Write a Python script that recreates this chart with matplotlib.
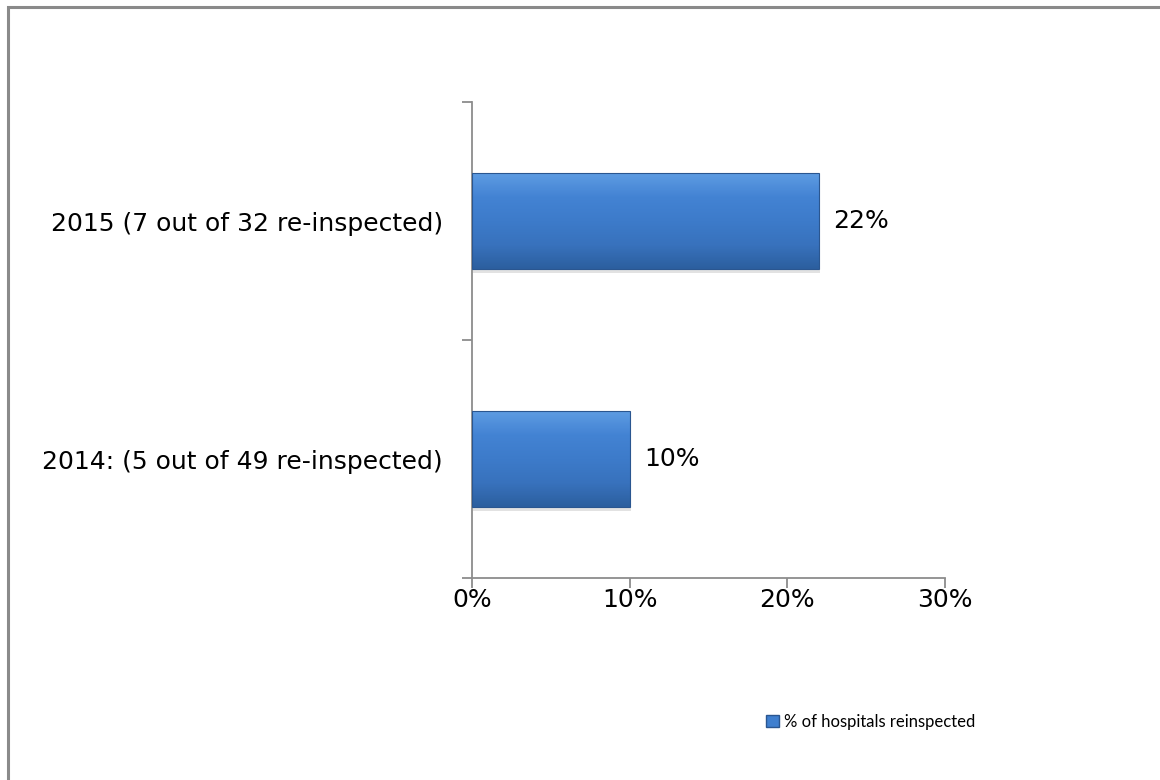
import numpy as np
import matplotlib
matplotlib.use("Agg")
import matplotlib.pyplot as plt
from matplotlib.patches import Rectangle
from matplotlib.colors import LinearSegmentedColormap

categories = ["2014: (5 out of 49 re-inspected)", "2015 (7 out of 32 re-inspected)"]
values = [0.10, 0.22]
value_labels = ["10%", "22%"]
x_ticks = [0.0, 0.10, 0.20, 0.30]
x_tick_labels = ["0%", "10%", "20%", "30%"]
series_name = "% of hospitals reinspected"

LABEL_FONT = "DejaVu Sans"
LEGEND_FONT = "Lato"
AXIS_GREY = "#8c8c8c"
FS = 18

fig = plt.figure(figsize=(11.6, 7.8), dpi=100)
ax = fig.add_axes([472 / 1160, 1 - 578 / 780, 473 / 1160, 476 / 780])

# outer frame (only left/top visible in the original, the rest runs off)
fig.add_artist(Rectangle((7.5 / 1160, -0.05), 1.2, 1 - 7.5 / 780 + 0.05,
                         transform=fig.transFigure, fill=False,
                         edgecolor="#8a8a8a", linewidth=2.2))

bar_h = 0.4
grad = LinearSegmentedColormap.from_list(
    "bev", ["#2c5f9f", "#3872bd", "#3d7bca", "#4383d3", "#5d9be2"])
ypos = np.arange(len(categories))
bars = ax.barh(ypos, values, height=bar_h, color="none",
               edgecolor="#2a5690", linewidth=0.8, zorder=3)
for i, b in enumerate(bars):
    x0, y0 = b.get_x(), b.get_y()
    w, h = b.get_width(), b.get_height()
    # soft shadow under the bar
    ax.add_patch(Rectangle((x0 + 0.0008, y0 - 0.02), w, h, facecolor="#d0d0d0",
                           edgecolor="none", alpha=0.6, zorder=1))
    g = np.linspace(0, 1, 100).reshape(-1, 1)
    im = ax.imshow(g, extent=[x0, x0 + w, y0, y0 + h], origin="lower",
                   cmap=grad, aspect="auto", zorder=2)
    im.set_clip_path(b)
    ax.text(x0 + w + 0.009, ypos[i], value_labels[i], va="center", ha="left",
            fontsize=FS, family=LABEL_FONT, color="black")

ax.set_xlim(0, 0.30)
ax.set_ylim(-0.5, 1.5)
ax.set_xticks(x_ticks)
ax.set_xticklabels(x_tick_labels, family=LABEL_FONT, fontsize=FS)
ax.set_yticks([-0.5, 0.5, 1.5], minor=False)
ax.set_yticklabels([])
ax.set_yticks(ypos, minor=True)
ax.set_yticklabels(categories, minor=True, family=LABEL_FONT, fontsize=FS)
ax.tick_params(axis="y", which="minor", length=0, pad=21)
ax.tick_params(axis="y", which="major", length=7, direction="out", color=AXIS_GREY, width=1.3)
ax.tick_params(axis="x", length=7, direction="out", color=AXIS_GREY, width=1.3, pad=0)

for s in ["top", "right"]:
    ax.spines[s].set_visible(False)
for s in ["left", "bottom"]:
    ax.spines[s].set_color(AXIS_GREY)
    ax.spines[s].set_linewidth(1.3)

# legend
handle = Rectangle((0, 0), 1, 1, facecolor="#3f7fcf", edgecolor="#2a5690")
fig.legend([handle], [series_name], loc="center left",
           bbox_to_anchor=(751 / 1160, 1 - 722 / 780), frameon=False,
           prop={"family": LEGEND_FONT, "size": 12}, handlelength=0.75,
           handleheight=0.75, handletextpad=0.3)

fig.savefig("out.png", dpi=100, facecolor="white")
